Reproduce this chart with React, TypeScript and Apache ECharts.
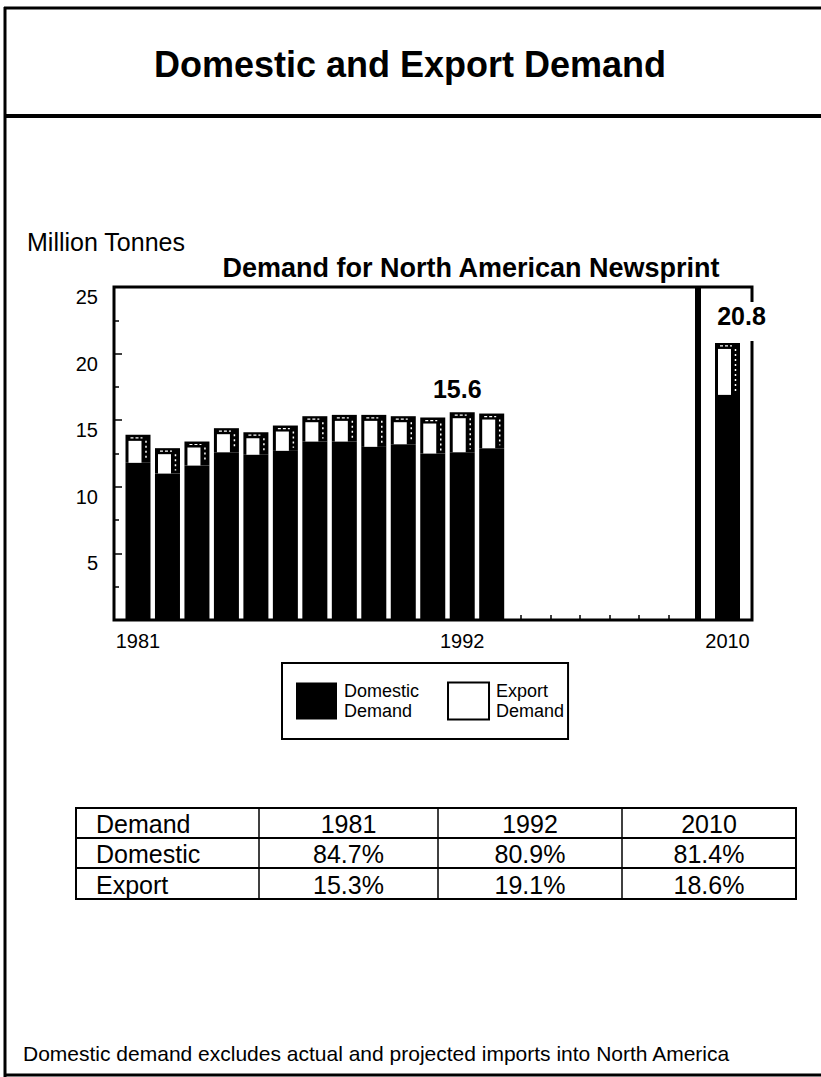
import React, { useEffect, useRef } from 'react';
import * as echarts from 'echarts';

const FONT = '"Liberation Sans", Arial, Helvetica, sans-serif';

// ---- data ----
const historicalYears = ['1981', '1982', '1983', '1984', '1985', '1986', '1987', '1988', '1989', '1990', '1991', '1992', '1993'];
const projectionYear = '2010';
const gapSlots = 7; // compressed, unlabeled slots between 1993 and 2010 (last one holds the axis break)
const domesticHistorical = [11.8, 11.0, 11.6, 12.6, 12.4, 12.7, 13.4, 13.4, 13.0, 13.2, 12.5, 12.6, 12.9];
const exportHistorical = [2.1, 1.9, 1.8, 1.8, 1.7, 1.9, 1.9, 2.0, 2.4, 2.1, 2.7, 3.0, 2.6];
const domesticProjection = 16.9;
const exportProjection = 3.9;
const annotatedTotals: Record<string, string> = { '1992': '15.6', '2010': '20.8' };
const labeledYears = ['1981', '1992', '2010'];
const yMin = 0;
const yMax = 25;
const yInterval = 5;

const tableHeader = ['Demand', '1981', '1992', '2010'];
const tableRows = [
  ['Domestic', '84.7%', '80.9%', '81.4%'],
  ['Export', '15.3%', '19.1%', '18.6%'],
];

const mainTitle = 'Domestic and Export Demand';
const chartTitle = 'Demand for North American Newsprint';
const unitLabel = 'Million Tonnes';
const footnote = 'Domestic demand excludes actual and projected imports into North America';

// ---- derived category layout ----
const gapNames = Array.from({ length: gapSlots }, (_, i) => `gap${i + 1}`);
const categories = [...historicalYears, ...gapNames, projectionYear];
const breakIndex = historicalYears.length + gapSlots - 1;

const domesticData = categories.map((c) => {
  const i = historicalYears.indexOf(c);
  if (i >= 0) return domesticHistorical[i];
  if (c === projectionYear) return domesticProjection;
  return null;
});

const exportItems: { idx: number; year: string; dom: number; exp: number }[] = [];
historicalYears.forEach((y, i) =>
  exportItems.push({ idx: categories.indexOf(y), year: y, dom: domesticHistorical[i], exp: exportHistorical[i] })
);
exportItems.push({ idx: categories.indexOf(projectionYear), year: projectionYear, dom: domesticProjection, exp: exportProjection });

// label styling (layout only)
const labelStyle: Record<string, { dx: number; padBottom: number }> = {
  '1992': { dx: -5, padBottom: 9 },
  '2010': { dx: 14, padBottom: 12 },
};

export default function App() {
  const ref = useRef<HTMLDivElement>(null);

  useEffect(() => {
    if (!ref.current) return;
    const chart = echarts.init(ref.current, undefined, { renderer: 'svg' });

    const tableX = [76, 259, 438, 622, 796];
    const tableY = [808, 838, 868, 899];
    const tableGraphics: any[] = [];
    tableGraphics.push({
      type: 'rect',
      shape: { x: tableX[0], y: tableY[0], width: tableX[4] - tableX[0], height: tableY[3] - tableY[0] },
      style: { fill: 'none', stroke: '#000', lineWidth: 2 },
    });
    for (let r = 1; r < tableY.length - 1; r++) {
      tableGraphics.push({
        type: 'line',
        shape: { x1: tableX[0], y1: tableY[r], x2: tableX[4], y2: tableY[r] },
        style: { stroke: '#000', lineWidth: 2 },
      });
    }
    for (let c = 1; c < tableX.length - 1; c++) {
      tableGraphics.push({
        type: 'line',
        shape: { x1: tableX[c], y1: tableY[0], x2: tableX[c], y2: tableY[3] },
        style: { stroke: '#000', lineWidth: 1.5 },
      });
    }
    const allRows = [tableHeader, ...tableRows];
    allRows.forEach((row, r) => {
      const cy = (tableY[r] + tableY[r + 1]) / 2 + 1;
      row.forEach((cell, c) => {
        tableGraphics.push({
          type: 'text',
          x: c === 0 ? tableX[0] + 20 : (tableX[c] + tableX[c + 1]) / 2,
          y: cy,
          style: {
            text: cell,
            fill: '#000',
            fontSize: 25,
            fontFamily: FONT,
            align: c === 0 ? 'left' : 'center',
            verticalAlign: 'middle',
          },
        });
      });
    });

    const option: any = {
      animation: false,
      backgroundColor: '#fff',
      grid: [
        { left: 123.26, top: 287, width: 618.98, height: 333, show: false },
        { left: 114, top: 287, width: 638, height: 333, show: true, borderColor: '#000', borderWidth: 3, backgroundColor: 'transparent' },
      ],
      legend: {
        left: 282,
        top: 663,
        orient: 'horizontal',
        selectedMode: false,
        borderColor: '#000',
        borderWidth: 2,
        padding: [18, 4, 18, 14],
        itemGap: 28,
        itemWidth: 41,
        itemHeight: 37,
        textStyle: { fontSize: 18, lineHeight: 20, fontFamily: FONT, color: '#000', padding: [0, 0, 0, 2] },
        formatter: (name: string) => name.replace(' ', '\n'),
        data: [
          { name: 'Domestic Demand', icon: 'rect', itemStyle: { color: '#000', borderWidth: 0 } },
          { name: 'Export Demand', icon: 'rect', itemStyle: { color: '#fff', borderColor: '#000', borderWidth: 2 } },
        ],
      },
      xAxis: [
        {
          gridIndex: 0,
          type: 'category',
          data: categories,
          boundaryGap: true,
          axisLine: { show: false },
          splitLine: { show: false },
          axisTick: {
            show: true,
            inside: true,
            alignWithLabel: true,
            length: 5,
            interval: (i: number) => i >= historicalYears.length && i < breakIndex,
            lineStyle: { color: '#000', width: 1.5 },
          },
          axisLabel: {
            interval: (_i: number, v: string) => labeledYears.includes(v),
            color: '#000',
            fontSize: 20,
            fontFamily: FONT,
            margin: 11,
          },
        },
        { gridIndex: 1, type: 'value', show: false },
      ],
      yAxis: [
        {
          gridIndex: 0,
          type: 'value',
          min: yMin,
          max: yMax,
          interval: yInterval,
          offset: 9.26,
          axisLine: { show: false },
          splitLine: { show: false },
          axisTick: { show: true, inside: true, length: 8, lineStyle: { color: '#000', width: 1.5 } },
          minorTick: { show: true, splitNumber: 2, length: 5, lineStyle: { color: '#000', width: 1.5 } },
          axisLabel: {
            formatter: (v: number) => (v === 0 ? '' : String(v)),
            color: '#000',
            fontSize: 20,
            fontFamily: FONT,
            margin: 16,
            verticalAlign: 'top',
          },
        },
        { gridIndex: 1, type: 'value', show: false },
      ],
      series: [
        {
          name: 'Domestic Demand',
          type: 'bar',
          xAxisIndex: 0,
          yAxisIndex: 0,
          data: domesticData,
          barWidth: 25,
          itemStyle: { color: '#000' },
          z: 3,
          markLine: {
            silent: true,
            symbol: ['none', 'none'],
            label: { show: false },
            lineStyle: { color: '#000', width: 6, type: 'solid' },
            data: [{ xAxis: breakIndex }],
          },
        },
        {
          name: 'Export Demand',
          type: 'custom',
          xAxisIndex: 0,
          yAxisIndex: 0,
          z: 4,
          clip: false,
          data: exportItems.map((d) => [d.idx, d.dom, d.dom + d.exp]),
          encode: { x: 0, y: [1, 2] },
          renderItem: (params: any, api: any) => {
            const item = exportItems[params.dataIndex];
            const base = api.coord([api.value(0), api.value(1)]);
            const top = api.coord([api.value(0), api.value(2)]);
            const w = 25;
            const x0 = base[0] - w / 2;
            const h = base[1] - top[1];
            const children: any[] = [
              { type: 'rect', shape: { x: x0, y: top[1], width: w, height: h }, style: { fill: '#000' } },
              { type: 'rect', shape: { x: x0 + 3, y: top[1] + 6, width: 13, height: Math.max(0, h - 6) }, style: { fill: '#fff' } },
              { type: 'line', shape: { x1: x0 + 20.5, y1: top[1] + 6, x2: x0 + 20.5, y2: base[1] - 3 }, style: { stroke: '#fff', lineWidth: 1.5, lineDash: [2, 3] } },
              { type: 'line', shape: { x1: x0 + 5, y1: top[1] + 3, x2: x0 + 17, y2: top[1] + 3 }, style: { stroke: '#fff', lineWidth: 1.2, lineDash: [3, 2] } },
            ];
            const txt = annotatedTotals[item.year];
            if (txt) {
              const ls = labelStyle[item.year] || { dx: 0, padBottom: 8 };
              children.push({
                type: 'text',
                x: base[0] + ls.dx,
                y: top[1] - 2,
                z2: 10,
                style: {
                  text: txt,
                  fill: '#000',
                  fontSize: 25,
                  fontWeight: 'bold',
                  fontFamily: FONT,
                  align: 'center',
                  verticalAlign: 'bottom',
                  backgroundColor: '#fff',
                  padding: [2, 3, ls.padBottom, 3],
                },
              });
            }
            return { type: 'group', children };
          },
        },
      ],
      graphic: [
        // page frame
        { type: 'line', shape: { x1: 5, y1: 7, x2: 5, y2: 1077 }, style: { stroke: '#000', lineWidth: 3 } },
        { type: 'line', shape: { x1: 4, y1: 8, x2: 821, y2: 8 }, style: { stroke: '#000', lineWidth: 3 } },
        { type: 'line', shape: { x1: 4, y1: 116, x2: 821, y2: 116 }, style: { stroke: '#000', lineWidth: 4 } },
        { type: 'line', shape: { x1: 4, y1: 1075, x2: 821, y2: 1075 }, style: { stroke: '#000', lineWidth: 3 } },
        {
          type: 'text', x: 410, y: 64,
          style: { text: mainTitle, fill: '#000', fontSize: 36, fontWeight: 'bold', fontFamily: FONT, align: 'center', verticalAlign: 'middle' },
        },
        {
          type: 'text', x: 27, y: 242,
          style: { text: unitLabel, fill: '#000', fontSize: 25, fontFamily: FONT, align: 'left', verticalAlign: 'middle' },
        },
        {
          type: 'text', x: 471, y: 268,
          style: { text: chartTitle, fill: '#000', fontSize: 27, fontWeight: 'bold', fontFamily: FONT, align: 'center', verticalAlign: 'middle' },
        },
        ...tableGraphics,
        {
          type: 'text', x: 23, y: 1053,
          style: { text: footnote, fill: '#000', fontSize: 21, fontFamily: FONT, align: 'left', verticalAlign: 'middle' },
        },
      ],
    };

    chart.setOption(option);
    return () => chart.dispose();
  }, []);

  return (
    <div
      ref={ref}
      style={{ position: 'absolute', left: 0, top: 0, width: 821, height: 1077, background: '#fff' }}
    />
  );
}
